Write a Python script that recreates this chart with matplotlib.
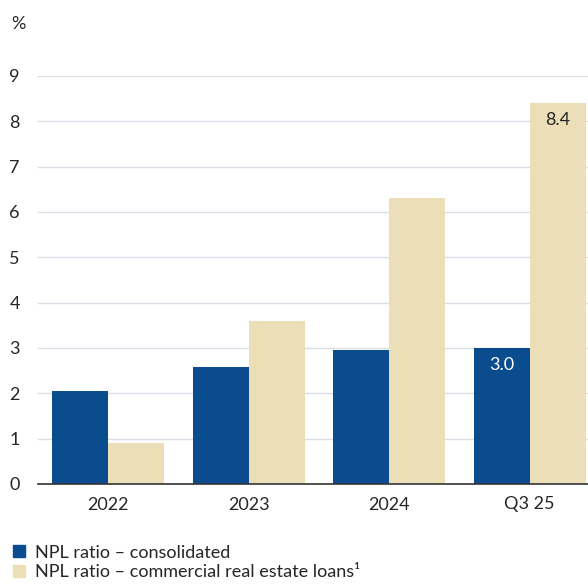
import matplotlib
matplotlib.use("Agg")
import matplotlib.pyplot as plt
import numpy as np
from matplotlib.patches import Patch

plt.rcParams["font.family"] = ["Lato", "DejaVu Sans"]

categories = ["2022", "2023", "2024", "Q3 25"]
npl_consolidated = [2.05, 2.58, 2.96, 3.0]
npl_cre = [0.9, 3.6, 6.3, 8.4]
yticks = [0, 1, 2, 3, 4, 5, 6, 7, 8, 9]
labels = ["NPL ratio \u2013 consolidated", "NPL ratio \u2013 commercial real estate loans\u00b9"]

BLUE = "#0A4C8E"
BEIGE = "#ECDEB7"
TEXT = "#262626"
FS = 13

fig = plt.figure(figsize=(5.88, 5.86), dpi=100)
ax = fig.add_axes([38 / 588, 1 - 484 / 586, 562 / 588, 408 / 586])

x = np.arange(len(categories))
w = 0.4
ax.bar(x - w / 2, npl_consolidated, w, color=BLUE, zorder=2)
ax.bar(x + w / 2, npl_cre, w, color=BEIGE, zorder=2)

ax.set_xlim(-0.5, 3.5)
ax.set_ylim(0, 9)
ax.set_yticks(yticks)
ax.set_xticks(x)
ax.set_xticklabels(categories)
ax.tick_params(axis="both", length=0, labelsize=FS, colors=TEXT)
ax.tick_params(axis="y", pad=13)
ax.tick_params(axis="x", pad=9)
ax.yaxis.grid(True, color="#D7DEE6", linewidth=1.0, zorder=0)
for s in ["top", "right", "left"]:
    ax.spines[s].set_visible(False)
ax.spines["bottom"].set_color("#333333")
ax.spines["bottom"].set_linewidth(1.2)
ax.spines["bottom"].set_zorder(3)

# value labels on the last period
ax.text(x[-1] - w / 2, npl_consolidated[-1] - 0.38, f"{npl_consolidated[-1]:.1f}",
        ha="center", va="center", color="white", fontsize=FS, zorder=3)
ax.text(x[-1] + w / 2, npl_cre[-1] - 0.38, f"{npl_cre[-1]:.1f}",
        ha="center", va="center", color=TEXT, fontsize=FS, zorder=3)

fig.text(11 / 588, 1 - 24 / 586, "%", ha="left", va="center", fontsize=FS, color=TEXT)

handles = [Patch(color=BLUE), Patch(color=BEIGE)]
fig.legend(handles, labels, loc="lower left", bbox_to_anchor=(-0.005, -0.018),
           frameon=False, fontsize=FS, handlelength=0.65, handleheight=0.65,
           handletextpad=0.55, labelspacing=0.2, labelcolor=TEXT)

fig.savefig("out.png", dpi=100)
